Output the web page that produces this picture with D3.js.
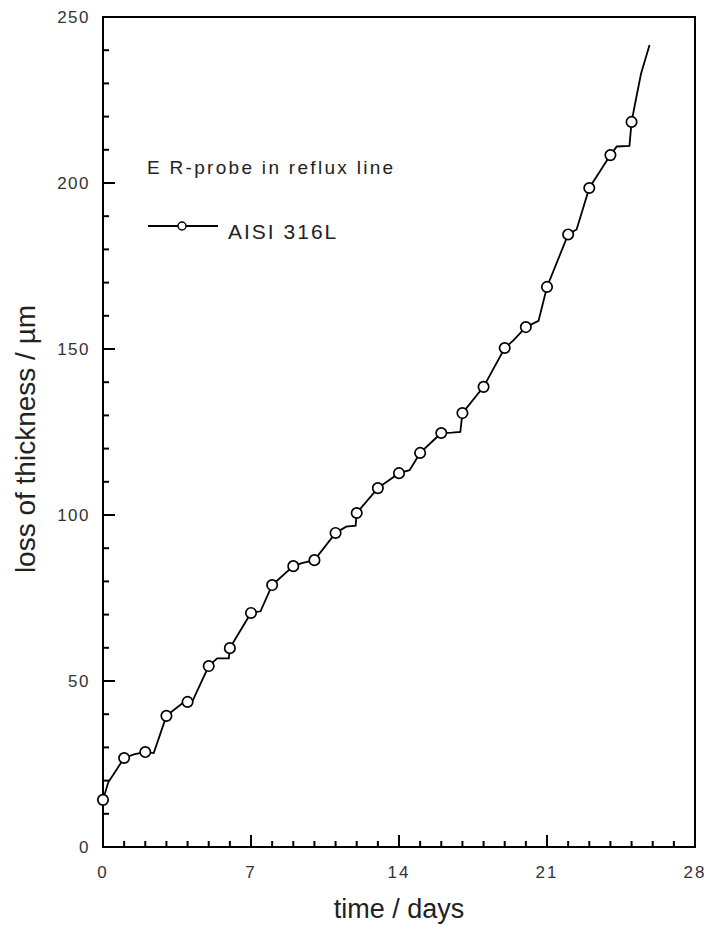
<!DOCTYPE html>
<html>
<head>
<meta charset="utf-8">
<script src="https://cdn.jsdelivr.net/npm/d3@7"></script>
<style>
body { margin: 0; background: #fff; }
text { font-family: Arial, "Liberation Sans", sans-serif; }
</style>
</head>
<body>
<div class="chart"></div>
<script>
var WIDTH = 705;
var HEIGHT = 926;

var LEFT = 103;
var RIGHT = 695;
var TOP = 17;
var BOTTOM = 847;

// measured points (one per day)
var markerDays = [0, 1, 2, 3, 4, 5, 6, 7, 8, 9, 10, 11, 12, 13, 14, 15, 16, 17, 18, 19, 20, 21, 22, 23, 24, 25];
var markerLoss = [14.2, 26.8, 28.6, 39.5, 43.7, 54.5, 59.9, 70.5, 78.9, 84.6, 86.4, 94.6, 100.6, 108.1,
    112.6, 118.7, 124.7, 130.7, 138.6, 150.3, 156.6, 168.7, 184.5, 198.5, 208.4, 218.4];

// continuous probe trace
var lineDays = [0, 0.25, 1, 1.5, 2, 2.4, 3, 3.5, 3.9, 4.15, 5, 5.4, 5.95, 6, 7, 7.45, 8, 9, 9.4, 10,
    11, 11.5, 11.95, 12, 13, 14, 14.5, 15, 16, 16.5, 16.9, 17, 18, 19, 19.4, 20, 20.6, 21, 22, 22.4,
    23, 24, 24.3, 24.9, 25, 25.2, 25.45, 25.85];
var lineLoss = [14.2, 19.5, 26.8, 28.0, 28.6, 28.3, 39.5, 42.0, 44.0, 42.8, 54.5, 56.8, 56.8, 59.9, 70.5, 71.0,
    78.9, 84.6, 85.5, 86.4, 94.6, 96.5, 96.8, 100.6, 108.1, 112.6, 113.5, 118.7, 124.7, 124.8, 125.0,
    130.7, 138.6, 150.3, 152.5, 156.6, 158.5, 168.7, 184.5, 186.0, 198.5, 208.4, 211.0, 211.2, 218.4,
    225.0, 233.0, 241.6];

var xTickLabels = [0, 7, 14, 21, 28];
var yTickLabels = [0, 50, 100, 150, 200, 250];

var xTitle = "time / days";
var yTitle = "loss of thickness / \u00b5m";
var noteText = "E R-probe in reflux line";
var seriesName = "AISI 316L";

var x = d3.scaleLinear().domain([0, 28]).range([LEFT, RIGHT]);
var y = d3.scaleLinear().domain([0, 250]).range([BOTTOM, TOP]);

var svg = d3.select(".chart")
    .append("svg")
    .attr("width", WIDTH)
    .attr("height", HEIGHT);

// ticks point into the plot, long ones at the labelled values
var xTicks = d3.range(1, 28, 1);
var yTicks = d3.range(10, 250, 10);

svg.append("g").selectAll("line")
    .data(xTicks)
    .enter().append("line")
    .attr("x1", function(d) { return x(d); })
    .attr("x2", function(d) { return x(d); })
    .attr("y1", BOTTOM)
    .attr("y2", function(d) { return BOTTOM - (d % 7 === 0 ? 12 : 6); })
    .attr("stroke", "#000")
    .attr("stroke-width", 2);

svg.append("g").selectAll("line")
    .data(yTicks)
    .enter().append("line")
    .attr("x1", LEFT)
    .attr("x2", function(d) { return LEFT + (d % 50 === 0 ? 12 : 6); })
    .attr("y1", function(d) { return y(d); })
    .attr("y2", function(d) { return y(d); })
    .attr("stroke", "#000")
    .attr("stroke-width", 2);

// tick labels
svg.append("g").selectAll("text")
    .data(xTickLabels)
    .enter().append("text")
    .attr("x", function(d) { return x(d); })
    .attr("y", BOTTOM + 31)
    .attr("text-anchor", "middle")
    .attr("font-size", 17)
    .attr("letter-spacing", 2)
    .attr("fill", "#333")
    .text(function(d) { return d; });

svg.append("g").selectAll("text")
    .data(yTickLabels)
    .enter().append("text")
    .attr("x", LEFT - 13)
    .attr("y", function(d) { return y(d) + 6; })
    .attr("text-anchor", "end")
    .attr("font-size", 17)
    .attr("letter-spacing", 1.5)
    .attr("fill", "#333")
    .text(function(d) { return d; });

// frame
svg.append("rect")
    .attr("x", LEFT)
    .attr("y", TOP)
    .attr("width", RIGHT - LEFT)
    .attr("height", BOTTOM - TOP)
    .attr("fill", "none")
    .attr("stroke", "#000")
    .attr("stroke-width", 2);

// axis titles
svg.append("text")
    .attr("x", (LEFT + RIGHT) / 2)
    .attr("y", 918)
    .attr("text-anchor", "middle")
    .attr("font-size", 27)
    .attr("fill", "#222")
    .text(xTitle);

svg.append("text")
    .attr("transform", "translate(35," + 439 + ") rotate(-90)")
    .attr("text-anchor", "middle")
    .attr("font-size", 28)
    .attr("fill", "#222")
    .text(yTitle);

// data
var line = d3.line()
    .x(function(d, i) { return x(lineDays[i]); })
    .y(function(d) { return y(d); });

svg.append("path")
    .datum(lineLoss)
    .attr("d", line)
    .attr("fill", "none")
    .attr("stroke", "#000")
    .attr("stroke-width", 1.8);

svg.append("g").selectAll("circle")
    .data(markerLoss)
    .enter().append("circle")
    .attr("cx", function(d, i) { return x(markerDays[i]); })
    .attr("cy", function(d) { return y(d); })
    .attr("r", 5.2)
    .attr("fill", "#fff")
    .attr("stroke", "#000")
    .attr("stroke-width", 1.7);

// legend
svg.append("text")
    .attr("x", 147)
    .attr("y", 174)
    .attr("font-size", 19)
    .attr("letter-spacing", 2.3)
    .attr("fill", "#222")
    .text(noteText);

svg.append("line")
    .attr("x1", 148)
    .attr("x2", 218)
    .attr("y1", 226)
    .attr("y2", 226)
    .attr("stroke", "#000")
    .attr("stroke-width", 1.8);

svg.append("circle")
    .attr("cx", 182)
    .attr("cy", 226)
    .attr("r", 4)
    .attr("fill", "#fff")
    .attr("stroke", "#000")
    .attr("stroke-width", 1.5);

svg.append("text")
    .attr("x", 228)
    .attr("y", 239)
    .attr("font-size", 21)
    .attr("letter-spacing", 2)
    .attr("fill", "#222")
    .text(seriesName);
</script>
</body>
</html>
